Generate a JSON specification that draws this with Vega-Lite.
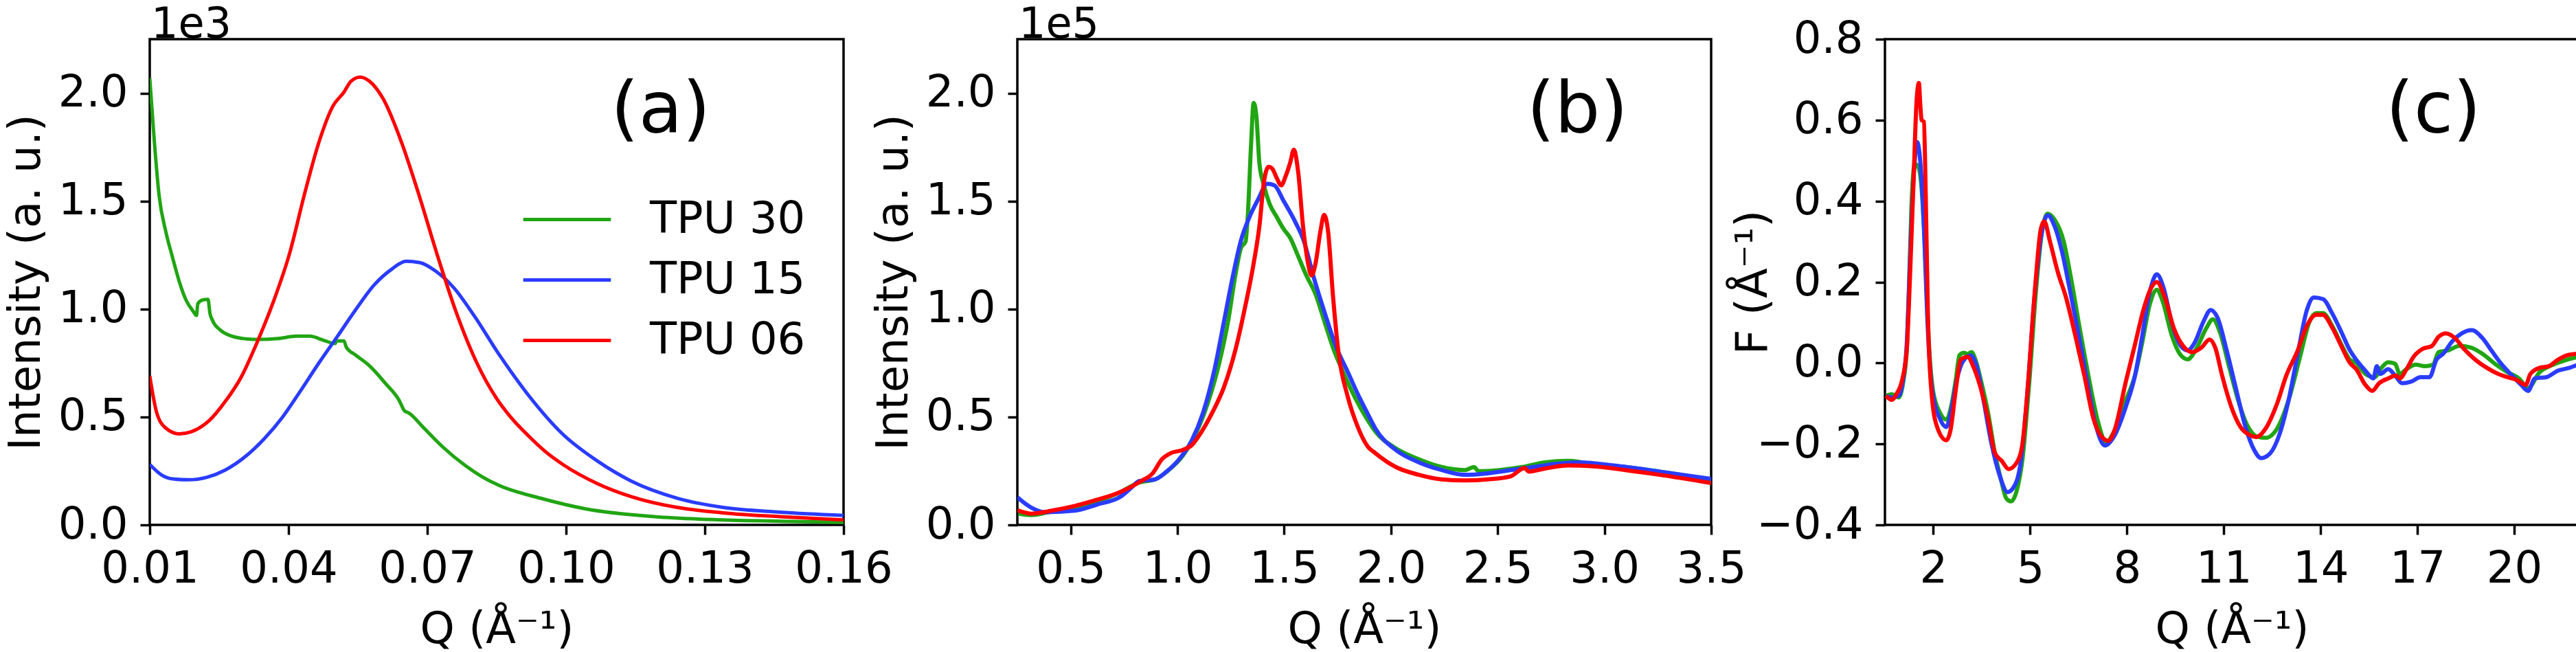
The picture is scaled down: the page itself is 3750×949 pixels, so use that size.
{
"$schema": "https://vega.github.io/schema/vega-lite/v6.json",
"background": "white",
"padding": {"left": 4, "top": 3, "right": 0, "bottom": 0},
"autosize": {"type": "pad"},
"datasets": {
"a": [
{"sample":"TPU 30","Q":0.0100,"I":2070},{"sample":"TPU 30","Q":0.0110,"I":1774},{"sample":"TPU 30","Q":0.0120,"I":1529},{"sample":"TPU 30","Q":0.0135,"I":1356},{"sample":"TPU 30","Q":0.0149,"I":1241},{"sample":"TPU 30","Q":0.0164,"I":1126},{"sample":"TPU 30","Q":0.0179,"I":1039},{"sample":"TPU 30","Q":0.0194,"I":989},{"sample":"TPU 30","Q":0.0201,"I":970},{"sample":"TPU 30","Q":0.0204,"I":1025},{"sample":"TPU 30","Q":0.0214,"I":1042},{"sample":"TPU 30","Q":0.0226,"I":1045},{"sample":"TPU 30","Q":0.0230,"I":982},{"sample":"TPU 30","Q":0.0236,"I":946},{"sample":"TPU 30","Q":0.0253,"I":902},{"sample":"TPU 30","Q":0.0278,"I":874},{"sample":"TPU 30","Q":0.0308,"I":862},{"sample":"TPU 30","Q":0.0337,"I":859},{"sample":"TPU 30","Q":0.0377,"I":863},{"sample":"TPU 30","Q":0.0417,"I":874},{"sample":"TPU 30","Q":0.0446,"I":874},{"sample":"TPU 30","Q":0.0476,"I":855},{"sample":"TPU 30","Q":0.0501,"I":840},{"sample":"TPU 30","Q":0.0503,"I":852},{"sample":"TPU 30","Q":0.0520,"I":852},{"sample":"TPU 30","Q":0.0525,"I":823},{"sample":"TPU 30","Q":0.0545,"I":787},{"sample":"TPU 30","Q":0.0575,"I":737},{"sample":"TPU 30","Q":0.0609,"I":657},{"sample":"TPU 30","Q":0.0639,"I":578},{"sample":"TPU 30","Q":0.0651,"I":528},{"sample":"TPU 30","Q":0.0659,"I":520},{"sample":"TPU 30","Q":0.0693,"I":448},{"sample":"TPU 30","Q":0.0733,"I":362},{"sample":"TPU 30","Q":0.0782,"I":275},{"sample":"TPU 30","Q":0.0817,"I":225},{"sample":"TPU 30","Q":0.0856,"I":182},{"sample":"TPU 30","Q":0.0944,"I":124},{"sample":"TPU 30","Q":0.1043,"I":74},{"sample":"TPU 30","Q":0.1191,"I":38},{"sample":"TPU 30","Q":0.1339,"I":23},{"sample":"TPU 30","Q":0.1488,"I":16},{"sample":"TPU 30","Q":0.1600,"I":12},
{"sample":"TPU 15","Q":0.0100,"I":280},{"sample":"TPU 15","Q":0.0125,"I":232},{"sample":"TPU 15","Q":0.0149,"I":213},{"sample":"TPU 15","Q":0.0184,"I":209},{"sample":"TPU 15","Q":0.0224,"I":221},{"sample":"TPU 15","Q":0.0263,"I":254},{"sample":"TPU 15","Q":0.0308,"I":319},{"sample":"TPU 15","Q":0.0347,"I":398},{"sample":"TPU 15","Q":0.0387,"I":499},{"sample":"TPU 15","Q":0.0426,"I":621},{"sample":"TPU 15","Q":0.0466,"I":751},{"sample":"TPU 15","Q":0.0506,"I":874},{"sample":"TPU 15","Q":0.0545,"I":996},{"sample":"TPU 15","Q":0.0585,"I":1111},{"sample":"TPU 15","Q":0.0624,"I":1186},{"sample":"TPU 15","Q":0.0654,"I":1221},{"sample":"TPU 15","Q":0.0684,"I":1215},{"sample":"TPU 15","Q":0.0718,"I":1176},{"sample":"TPU 15","Q":0.0758,"I":1097},{"sample":"TPU 15","Q":0.0802,"I":967},{"sample":"TPU 15","Q":0.0856,"I":787},{"sample":"TPU 15","Q":0.0919,"I":600},{"sample":"TPU 15","Q":0.0993,"I":420},{"sample":"TPU 15","Q":0.1067,"I":297},{"sample":"TPU 15","Q":0.1141,"I":203},{"sample":"TPU 15","Q":0.1240,"I":124},{"sample":"TPU 15","Q":0.1339,"I":81},{"sample":"TPU 15","Q":0.1463,"I":59},{"sample":"TPU 15","Q":0.1600,"I":44},
{"sample":"TPU 06","Q":0.0100,"I":690},{"sample":"TPU 06","Q":0.0115,"I":520},{"sample":"TPU 06","Q":0.0135,"I":448},{"sample":"TPU 06","Q":0.0164,"I":422},{"sample":"TPU 06","Q":0.0189,"I":431},{"sample":"TPU 06","Q":0.0229,"I":484},{"sample":"TPU 06","Q":0.0263,"I":571},{"sample":"TPU 06","Q":0.0298,"I":686},{"sample":"TPU 06","Q":0.0332,"I":845},{"sample":"TPU 06","Q":0.0367,"I":1032},{"sample":"TPU 06","Q":0.0402,"I":1255},{"sample":"TPU 06","Q":0.0436,"I":1544},{"sample":"TPU 06","Q":0.0466,"I":1774},{"sample":"TPU 06","Q":0.0496,"I":1940},{"sample":"TPU 06","Q":0.0520,"I":2005},{"sample":"TPU 06","Q":0.0535,"I":2055},{"sample":"TPU 06","Q":0.0555,"I":2074},{"sample":"TPU 06","Q":0.0575,"I":2055},{"sample":"TPU 06","Q":0.0604,"I":1976},{"sample":"TPU 06","Q":0.0644,"I":1774},{"sample":"TPU 06","Q":0.0684,"I":1515},{"sample":"TPU 06","Q":0.0723,"I":1241},{"sample":"TPU 06","Q":0.0763,"I":982},{"sample":"TPU 06","Q":0.0807,"I":751},{"sample":"TPU 06","Q":0.0850,"I":585},{"sample":"TPU 06","Q":0.0880,"I":500},{"sample":"TPU 06","Q":0.0919,"I":412},{"sample":"TPU 06","Q":0.0955,"I":340},{"sample":"TPU 06","Q":0.0993,"I":280},{"sample":"TPU 06","Q":0.1067,"I":192},{"sample":"TPU 06","Q":0.1141,"I":131},{"sample":"TPU 06","Q":0.1240,"I":81},{"sample":"TPU 06","Q":0.1339,"I":56},{"sample":"TPU 06","Q":0.1463,"I":38},{"sample":"TPU 06","Q":0.1600,"I":23}
],
"b": [
{"sample":"TPU 30","Q":0.255,"I":5200},{"sample":"TPU 30","Q":0.314,"I":4500},{"sample":"TPU 30","Q":0.411,"I":6200},{"sample":"TPU 30","Q":0.519,"I":8100},{"sample":"TPU 30","Q":0.626,"I":11000},{"sample":"TPU 30","Q":0.734,"I":15300},{"sample":"TPU 30","Q":0.820,"I":19600},{"sample":"TPU 30","Q":0.895,"I":21100},{"sample":"TPU 30","Q":0.959,"I":25400},{"sample":"TPU 30","Q":1.024,"I":31900},{"sample":"TPU 30","Q":1.088,"I":42700},{"sample":"TPU 30","Q":1.142,"I":56400},{"sample":"TPU 30","Q":1.196,"I":75100},{"sample":"TPU 30","Q":1.239,"I":95300},{"sample":"TPU 30","Q":1.271,"I":115500},{"sample":"TPU 30","Q":1.298,"I":128400},{"sample":"TPU 30","Q":1.319,"I":131300},{"sample":"TPU 30","Q":1.330,"I":144300},{"sample":"TPU 30","Q":1.344,"I":174600},{"sample":"TPU 30","Q":1.357,"I":195500},{"sample":"TPU 30","Q":1.370,"I":189000},{"sample":"TPU 30","Q":1.384,"I":167300},{"sample":"TPU 30","Q":1.405,"I":157300},{"sample":"TPU 30","Q":1.432,"I":148600},{"sample":"TPU 30","Q":1.464,"I":142800},{"sample":"TPU 30","Q":1.497,"I":137100},{"sample":"TPU 30","Q":1.529,"I":132800},{"sample":"TPU 30","Q":1.561,"I":125500},{"sample":"TPU 30","Q":1.604,"I":115500},{"sample":"TPU 30","Q":1.647,"I":106800},{"sample":"TPU 30","Q":1.690,"I":93800},{"sample":"TPU 30","Q":1.733,"I":80900},{"sample":"TPU 30","Q":1.776,"I":70800},{"sample":"TPU 30","Q":1.830,"I":59300},{"sample":"TPU 30","Q":1.892,"I":48400},{"sample":"TPU 30","Q":1.926,"I":43400},{"sample":"TPU 30","Q":2.023,"I":35500},{"sample":"TPU 30","Q":2.131,"I":30400},{"sample":"TPU 30","Q":2.238,"I":26800},{"sample":"TPU 30","Q":2.346,"I":25400},{"sample":"TPU 30","Q":2.389,"I":26800},{"sample":"TPU 30","Q":2.410,"I":24900},{"sample":"TPU 30","Q":2.507,"I":25400},{"sample":"TPU 30","Q":2.614,"I":26800},{"sample":"TPU 30","Q":2.722,"I":29000},{"sample":"TPU 30","Q":2.829,"I":29700},{"sample":"TPU 30","Q":2.937,"I":28300},{"sample":"TPU 30","Q":3.098,"I":26800},{"sample":"TPU 30","Q":3.259,"I":24700},{"sample":"TPU 30","Q":3.500,"I":21000},
{"sample":"TPU 15","Q":0.250,"I":12800},{"sample":"TPU 15","Q":0.314,"I":8100},{"sample":"TPU 15","Q":0.379,"I":5900},{"sample":"TPU 15","Q":0.519,"I":6600},{"sample":"TPU 15","Q":0.626,"I":9500},{"sample":"TPU 15","Q":0.734,"I":13100},{"sample":"TPU 15","Q":0.787,"I":17500},{"sample":"TPU 15","Q":0.820,"I":20300},{"sample":"TPU 15","Q":0.895,"I":21100},{"sample":"TPU 15","Q":0.949,"I":24700},{"sample":"TPU 15","Q":1.002,"I":29700},{"sample":"TPU 15","Q":1.067,"I":39100},{"sample":"TPU 15","Q":1.120,"I":52000},{"sample":"TPU 15","Q":1.174,"I":72200},{"sample":"TPU 15","Q":1.217,"I":93800},{"sample":"TPU 15","Q":1.260,"I":115500},{"sample":"TPU 15","Q":1.298,"I":132000},{"sample":"TPU 15","Q":1.335,"I":142100},{"sample":"TPU 15","Q":1.378,"I":150800},{"sample":"TPU 15","Q":1.421,"I":158000},{"sample":"TPU 15","Q":1.454,"I":157300},{"sample":"TPU 15","Q":1.497,"I":150100},{"sample":"TPU 15","Q":1.550,"I":140700},{"sample":"TPU 15","Q":1.593,"I":131300},{"sample":"TPU 15","Q":1.636,"I":115500},{"sample":"TPU 15","Q":1.690,"I":98200},{"sample":"TPU 15","Q":1.744,"I":82300},{"sample":"TPU 15","Q":1.798,"I":70800},{"sample":"TPU 15","Q":1.851,"I":59300},{"sample":"TPU 15","Q":1.892,"I":51300},{"sample":"TPU 15","Q":1.926,"I":44800},{"sample":"TPU 15","Q":2.023,"I":34700},{"sample":"TPU 15","Q":2.131,"I":29000},{"sample":"TPU 15","Q":2.238,"I":25400},{"sample":"TPU 15","Q":2.346,"I":23200},{"sample":"TPU 15","Q":2.453,"I":23900},{"sample":"TPU 15","Q":2.561,"I":25400},{"sample":"TPU 15","Q":2.668,"I":26800},{"sample":"TPU 15","Q":2.776,"I":28300},{"sample":"TPU 15","Q":2.883,"I":29000},{"sample":"TPU 15","Q":3.044,"I":27500},{"sample":"TPU 15","Q":3.259,"I":24700},{"sample":"TPU 15","Q":3.500,"I":21300},
{"sample":"TPU 06","Q":0.250,"I":6800},{"sample":"TPU 06","Q":0.314,"I":5200},{"sample":"TPU 06","Q":0.411,"I":6600},{"sample":"TPU 06","Q":0.519,"I":8800},{"sample":"TPU 06","Q":0.626,"I":11700},{"sample":"TPU 06","Q":0.734,"I":15300},{"sample":"TPU 06","Q":0.830,"I":20300},{"sample":"TPU 06","Q":0.884,"I":23900},{"sample":"TPU 06","Q":0.927,"I":30400},{"sample":"TPU 06","Q":0.970,"I":33300},{"sample":"TPU 06","Q":1.024,"I":34700},{"sample":"TPU 06","Q":1.067,"I":36900},{"sample":"TPU 06","Q":1.110,"I":42700},{"sample":"TPU 06","Q":1.163,"I":52000},{"sample":"TPU 06","Q":1.217,"I":63600},{"sample":"TPU 06","Q":1.271,"I":80900},{"sample":"TPU 06","Q":1.314,"I":99600},{"sample":"TPU 06","Q":1.357,"I":121200},{"sample":"TPU 06","Q":1.384,"I":138500},{"sample":"TPU 06","Q":1.405,"I":158700},{"sample":"TPU 06","Q":1.427,"I":165900},{"sample":"TPU 06","Q":1.443,"I":165200},{"sample":"TPU 06","Q":1.464,"I":160900},{"sample":"TPU 06","Q":1.486,"I":157300},{"sample":"TPU 06","Q":1.507,"I":161600},{"sample":"TPU 06","Q":1.529,"I":168100},{"sample":"TPU 06","Q":1.545,"I":173800},{"sample":"TPU 06","Q":1.566,"I":163000},{"sample":"TPU 06","Q":1.588,"I":138500},{"sample":"TPU 06","Q":1.609,"I":122700},{"sample":"TPU 06","Q":1.628,"I":115500},{"sample":"TPU 06","Q":1.647,"I":121200},{"sample":"TPU 06","Q":1.669,"I":135600},{"sample":"TPU 06","Q":1.687,"I":143600},{"sample":"TPU 06","Q":1.706,"I":135600},{"sample":"TPU 06","Q":1.728,"I":106800},{"sample":"TPU 06","Q":1.755,"I":79400},{"sample":"TPU 06","Q":1.798,"I":59300},{"sample":"TPU 06","Q":1.841,"I":46300},{"sample":"TPU 06","Q":1.892,"I":36200},{"sample":"TPU 06","Q":1.926,"I":33300},{"sample":"TPU 06","Q":2.023,"I":26800},{"sample":"TPU 06","Q":2.131,"I":23200},{"sample":"TPU 06","Q":2.238,"I":21100},{"sample":"TPU 06","Q":2.346,"I":20600},{"sample":"TPU 06","Q":2.453,"I":21100},{"sample":"TPU 06","Q":2.561,"I":22500},{"sample":"TPU 06","Q":2.604,"I":25400},{"sample":"TPU 06","Q":2.625,"I":26400},{"sample":"TPU 06","Q":2.646,"I":24700},{"sample":"TPU 06","Q":2.722,"I":26100},{"sample":"TPU 06","Q":2.829,"I":27500},{"sample":"TPU 06","Q":2.937,"I":27200},{"sample":"TPU 06","Q":3.098,"I":25400},{"sample":"TPU 06","Q":3.259,"I":23200},{"sample":"TPU 06","Q":3.500,"I":19400}
],
"c": [
{"sample":"TPU 30","Q":0.536,"F":-0.081},{"sample":"TPU 30","Q":0.713,"F":-0.077},{"sample":"TPU 30","Q":0.926,"F":-0.085},{"sample":"TPU 30","Q":1.068,"F":-0.046},{"sample":"TPU 30","Q":1.175,"F":0.031},{"sample":"TPU 30","Q":1.246,"F":0.185},{"sample":"TPU 30","Q":1.317,"F":0.377},{"sample":"TPU 30","Q":1.423,"F":0.492},{"sample":"TPU 30","Q":1.530,"F":0.485},{"sample":"TPU 30","Q":1.636,"F":0.431},{"sample":"TPU 30","Q":1.743,"F":0.277},{"sample":"TPU 30","Q":1.849,"F":0.069},{"sample":"TPU 30","Q":1.991,"F":-0.069},{"sample":"TPU 30","Q":2.205,"F":-0.123},{"sample":"TPU 30","Q":2.403,"F":-0.140},{"sample":"TPU 30","Q":2.560,"F":-0.104},{"sample":"TPU 30","Q":2.702,"F":-0.038},{"sample":"TPU 30","Q":2.808,"F":0.019},{"sample":"TPU 30","Q":2.950,"F":0.025},{"sample":"TPU 30","Q":3.057,"F":0.022},{"sample":"TPU 30","Q":3.185,"F":0.027},{"sample":"TPU 30","Q":3.305,"F":0.008},{"sample":"TPU 30","Q":3.483,"F":-0.046},{"sample":"TPU 30","Q":3.696,"F":-0.123},{"sample":"TPU 30","Q":3.909,"F":-0.223},{"sample":"TPU 30","Q":4.087,"F":-0.285},{"sample":"TPU 30","Q":4.264,"F":-0.335},{"sample":"TPU 30","Q":4.406,"F":-0.342},{"sample":"TPU 30","Q":4.584,"F":-0.315},{"sample":"TPU 30","Q":4.761,"F":-0.238},{"sample":"TPU 30","Q":4.974,"F":-0.046},{"sample":"TPU 30","Q":5.188,"F":0.185},{"sample":"TPU 30","Q":5.365,"F":0.323},{"sample":"TPU 30","Q":5.543,"F":0.369},{"sample":"TPU 30","Q":5.756,"F":0.354},{"sample":"TPU 30","Q":6.040,"F":0.300},{"sample":"TPU 30","Q":6.253,"F":0.215},{"sample":"TPU 30","Q":6.537,"F":0.085},{"sample":"TPU 30","Q":6.821,"F":-0.038},{"sample":"TPU 30","Q":7.105,"F":-0.146},{"sample":"TPU 30","Q":7.354,"F":-0.196},{"sample":"TPU 30","Q":7.602,"F":-0.169},{"sample":"TPU 30","Q":7.965,"F":-0.092},{"sample":"TPU 30","Q":8.249,"F":-0.031},{"sample":"TPU 30","Q":8.462,"F":0.046},{"sample":"TPU 30","Q":8.711,"F":0.146},{"sample":"TPU 30","Q":8.924,"F":0.181},{"sample":"TPU 30","Q":9.101,"F":0.154},{"sample":"TPU 30","Q":9.386,"F":0.069},{"sample":"TPU 30","Q":9.670,"F":0.019},{"sample":"TPU 30","Q":9.883,"F":0.009},{"sample":"TPU 30","Q":10.167,"F":0.038},{"sample":"TPU 30","Q":10.451,"F":0.085},{"sample":"TPU 30","Q":10.664,"F":0.108},{"sample":"TPU 30","Q":10.877,"F":0.077},{"sample":"TPU 30","Q":11.161,"F":-0.008},{"sample":"TPU 30","Q":11.445,"F":-0.092},{"sample":"TPU 30","Q":11.729,"F":-0.154},{"sample":"TPU 30","Q":12.013,"F":-0.181},{"sample":"TPU 30","Q":12.297,"F":-0.185},{"sample":"TPU 30","Q":12.653,"F":-0.162},{"sample":"TPU 30","Q":13.008,"F":-0.092},{"sample":"TPU 30","Q":13.363,"F":0.015},{"sample":"TPU 30","Q":13.647,"F":0.100},{"sample":"TPU 30","Q":13.860,"F":0.123},{"sample":"TPU 30","Q":14.073,"F":0.123},{"sample":"TPU 30","Q":14.357,"F":0.092},{"sample":"TPU 30","Q":14.641,"F":0.046},{"sample":"TPU 30","Q":14.911,"F":0.008},{"sample":"TPU 30","Q":15.103,"F":0.000},{"sample":"TPU 30","Q":15.387,"F":-0.027},{"sample":"TPU 30","Q":15.671,"F":-0.035},{"sample":"TPU 30","Q":15.884,"F":-0.012},{"sample":"TPU 30","Q":16.097,"F":0.002},{"sample":"TPU 30","Q":16.310,"F":-0.002},{"sample":"TPU 30","Q":16.452,"F":-0.027},{"sample":"TPU 30","Q":16.666,"F":-0.015},{"sample":"TPU 30","Q":16.950,"F":-0.004},{"sample":"TPU 30","Q":17.234,"F":-0.008},{"sample":"TPU 30","Q":17.482,"F":-0.004},{"sample":"TPU 30","Q":17.660,"F":0.027},{"sample":"TPU 30","Q":17.944,"F":0.031},{"sample":"TPU 30","Q":18.299,"F":0.042},{"sample":"TPU 30","Q":18.654,"F":0.038},{"sample":"TPU 30","Q":19.009,"F":0.023},{"sample":"TPU 30","Q":19.435,"F":-0.004},{"sample":"TPU 30","Q":19.791,"F":-0.023},{"sample":"TPU 30","Q":20.146,"F":-0.038},{"sample":"TPU 30","Q":20.430,"F":-0.062},{"sample":"TPU 30","Q":20.785,"F":-0.023},{"sample":"TPU 30","Q":21.211,"F":-0.004},{"sample":"TPU 30","Q":21.637,"F":0.008},{"sample":"TPU 30","Q":21.978,"F":0.015},
{"sample":"TPU 15","Q":0.536,"F":-0.081},{"sample":"TPU 15","Q":0.713,"F":-0.085},{"sample":"TPU 15","Q":0.926,"F":-0.081},{"sample":"TPU 15","Q":1.068,"F":-0.038},{"sample":"TPU 15","Q":1.175,"F":0.046},{"sample":"TPU 15","Q":1.281,"F":0.262},{"sample":"TPU 15","Q":1.388,"F":0.454},{"sample":"TPU 15","Q":1.494,"F":0.546},{"sample":"TPU 15","Q":1.601,"F":0.492},{"sample":"TPU 15","Q":1.707,"F":0.338},{"sample":"TPU 15","Q":1.814,"F":0.108},{"sample":"TPU 15","Q":1.956,"F":-0.062},{"sample":"TPU 15","Q":2.205,"F":-0.138},{"sample":"TPU 15","Q":2.403,"F":-0.158},{"sample":"TPU 15","Q":2.560,"F":-0.115},{"sample":"TPU 15","Q":2.737,"F":-0.038},{"sample":"TPU 15","Q":2.915,"F":0.004},{"sample":"TPU 15","Q":3.163,"F":0.019},{"sample":"TPU 15","Q":3.341,"F":-0.008},{"sample":"TPU 15","Q":3.554,"F":-0.092},{"sample":"TPU 15","Q":3.803,"F":-0.200},{"sample":"TPU 15","Q":4.051,"F":-0.277},{"sample":"TPU 15","Q":4.300,"F":-0.319},{"sample":"TPU 15","Q":4.477,"F":-0.308},{"sample":"TPU 15","Q":4.690,"F":-0.254},{"sample":"TPU 15","Q":4.903,"F":-0.085},{"sample":"TPU 15","Q":5.116,"F":0.146},{"sample":"TPU 15","Q":5.330,"F":0.308},{"sample":"TPU 15","Q":5.543,"F":0.365},{"sample":"TPU 15","Q":5.756,"F":0.338},{"sample":"TPU 15","Q":6.004,"F":0.269},{"sample":"TPU 15","Q":6.182,"F":0.200},{"sample":"TPU 15","Q":6.466,"F":0.085},{"sample":"TPU 15","Q":6.750,"F":-0.038},{"sample":"TPU 15","Q":7.034,"F":-0.154},{"sample":"TPU 15","Q":7.318,"F":-0.204},{"sample":"TPU 15","Q":7.602,"F":-0.181},{"sample":"TPU 15","Q":7.965,"F":-0.108},{"sample":"TPU 15","Q":8.249,"F":-0.031},{"sample":"TPU 15","Q":8.462,"F":0.062},{"sample":"TPU 15","Q":8.711,"F":0.177},{"sample":"TPU 15","Q":8.924,"F":0.219},{"sample":"TPU 15","Q":9.137,"F":0.185},{"sample":"TPU 15","Q":9.386,"F":0.100},{"sample":"TPU 15","Q":9.670,"F":0.042},{"sample":"TPU 15","Q":9.883,"F":0.031},{"sample":"TPU 15","Q":10.096,"F":0.050},{"sample":"TPU 15","Q":10.380,"F":0.104},{"sample":"TPU 15","Q":10.593,"F":0.131},{"sample":"TPU 15","Q":10.806,"F":0.112},{"sample":"TPU 15","Q":11.090,"F":0.031},{"sample":"TPU 15","Q":11.374,"F":-0.062},{"sample":"TPU 15","Q":11.658,"F":-0.154},{"sample":"TPU 15","Q":11.942,"F":-0.215},{"sample":"TPU 15","Q":12.155,"F":-0.235},{"sample":"TPU 15","Q":12.439,"F":-0.223},{"sample":"TPU 15","Q":12.723,"F":-0.177},{"sample":"TPU 15","Q":13.008,"F":-0.092},{"sample":"TPU 15","Q":13.292,"F":0.023},{"sample":"TPU 15","Q":13.576,"F":0.131},{"sample":"TPU 15","Q":13.789,"F":0.162},{"sample":"TPU 15","Q":14.073,"F":0.158},{"sample":"TPU 15","Q":14.357,"F":0.123},{"sample":"TPU 15","Q":14.641,"F":0.077},{"sample":"TPU 15","Q":14.911,"F":0.031},{"sample":"TPU 15","Q":15.103,"F":0.008},{"sample":"TPU 15","Q":15.387,"F":-0.019},{"sample":"TPU 15","Q":15.636,"F":-0.038},{"sample":"TPU 15","Q":15.742,"F":-0.008},{"sample":"TPU 15","Q":15.849,"F":-0.027},{"sample":"TPU 15","Q":16.097,"F":-0.015},{"sample":"TPU 15","Q":16.310,"F":-0.031},{"sample":"TPU 15","Q":16.524,"F":-0.050},{"sample":"TPU 15","Q":16.808,"F":-0.046},{"sample":"TPU 15","Q":17.092,"F":-0.035},{"sample":"TPU 15","Q":17.376,"F":-0.035},{"sample":"TPU 15","Q":17.589,"F":0.008},{"sample":"TPU 15","Q":17.802,"F":0.023},{"sample":"TPU 15","Q":18.086,"F":0.054},{"sample":"TPU 15","Q":18.370,"F":0.073},{"sample":"TPU 15","Q":18.690,"F":0.081},{"sample":"TPU 15","Q":19.009,"F":0.062},{"sample":"TPU 15","Q":19.293,"F":0.031},{"sample":"TPU 15","Q":19.578,"F":0.000},{"sample":"TPU 15","Q":19.933,"F":-0.031},{"sample":"TPU 15","Q":20.217,"F":-0.054},{"sample":"TPU 15","Q":20.430,"F":-0.069},{"sample":"TPU 15","Q":20.643,"F":-0.038},{"sample":"TPU 15","Q":20.998,"F":-0.035},{"sample":"TPU 15","Q":21.353,"F":-0.019},{"sample":"TPU 15","Q":21.708,"F":-0.012},{"sample":"TPU 15","Q":21.978,"F":-0.004},
{"sample":"TPU 06","Q":0.536,"F":-0.081},{"sample":"TPU 06","Q":0.713,"F":-0.091},{"sample":"TPU 06","Q":0.855,"F":-0.077},{"sample":"TPU 06","Q":1.033,"F":-0.042},{"sample":"TPU 06","Q":1.175,"F":0.031},{"sample":"TPU 06","Q":1.281,"F":0.223},{"sample":"TPU 06","Q":1.388,"F":0.454},{"sample":"TPU 06","Q":1.480,"F":0.646},{"sample":"TPU 06","Q":1.551,"F":0.692},{"sample":"TPU 06","Q":1.601,"F":0.631},{"sample":"TPU 06","Q":1.636,"F":0.600},{"sample":"TPU 06","Q":1.707,"F":0.596},{"sample":"TPU 06","Q":1.764,"F":0.415},{"sample":"TPU 06","Q":1.835,"F":0.108},{"sample":"TPU 06","Q":1.956,"F":-0.085},{"sample":"TPU 06","Q":2.134,"F":-0.162},{"sample":"TPU 06","Q":2.403,"F":-0.191},{"sample":"TPU 06","Q":2.524,"F":-0.169},{"sample":"TPU 06","Q":2.702,"F":-0.062},{"sample":"TPU 06","Q":2.844,"F":0.008},{"sample":"TPU 06","Q":3.057,"F":0.015},{"sample":"TPU 06","Q":3.270,"F":-0.015},{"sample":"TPU 06","Q":3.518,"F":-0.077},{"sample":"TPU 06","Q":3.696,"F":-0.138},{"sample":"TPU 06","Q":3.909,"F":-0.223},{"sample":"TPU 06","Q":4.122,"F":-0.242},{"sample":"TPU 06","Q":4.335,"F":-0.262},{"sample":"TPU 06","Q":4.584,"F":-0.246},{"sample":"TPU 06","Q":4.761,"F":-0.200},{"sample":"TPU 06","Q":4.939,"F":-0.046},{"sample":"TPU 06","Q":5.152,"F":0.185},{"sample":"TPU 06","Q":5.330,"F":0.331},{"sample":"TPU 06","Q":5.436,"F":0.350},{"sample":"TPU 06","Q":5.614,"F":0.300},{"sample":"TPU 06","Q":5.862,"F":0.223},{"sample":"TPU 06","Q":6.111,"F":0.162},{"sample":"TPU 06","Q":6.395,"F":0.069},{"sample":"TPU 06","Q":6.679,"F":-0.031},{"sample":"TPU 06","Q":6.963,"F":-0.138},{"sample":"TPU 06","Q":7.247,"F":-0.185},{"sample":"TPU 06","Q":7.425,"F":-0.192},{"sample":"TPU 06","Q":7.602,"F":-0.169},{"sample":"TPU 06","Q":7.965,"F":-0.046},{"sample":"TPU 06","Q":8.249,"F":0.046},{"sample":"TPU 06","Q":8.533,"F":0.138},{"sample":"TPU 06","Q":8.746,"F":0.185},{"sample":"TPU 06","Q":8.924,"F":0.200},{"sample":"TPU 06","Q":9.172,"F":0.162},{"sample":"TPU 06","Q":9.457,"F":0.085},{"sample":"TPU 06","Q":9.741,"F":0.042},{"sample":"TPU 06","Q":10.025,"F":0.027},{"sample":"TPU 06","Q":10.309,"F":0.038},{"sample":"TPU 06","Q":10.557,"F":0.058},{"sample":"TPU 06","Q":10.735,"F":0.038},{"sample":"TPU 06","Q":10.948,"F":-0.031},{"sample":"TPU 06","Q":11.232,"F":-0.108},{"sample":"TPU 06","Q":11.516,"F":-0.158},{"sample":"TPU 06","Q":11.800,"F":-0.178},{"sample":"TPU 06","Q":12.013,"F":-0.183},{"sample":"TPU 06","Q":12.297,"F":-0.162},{"sample":"TPU 06","Q":12.653,"F":-0.100},{"sample":"TPU 06","Q":12.937,"F":-0.031},{"sample":"TPU 06","Q":13.292,"F":0.031},{"sample":"TPU 06","Q":13.576,"F":0.092},{"sample":"TPU 06","Q":13.860,"F":0.119},{"sample":"TPU 06","Q":14.073,"F":0.119},{"sample":"TPU 06","Q":14.357,"F":0.088},{"sample":"TPU 06","Q":14.641,"F":0.042},{"sample":"TPU 06","Q":14.911,"F":0.000},{"sample":"TPU 06","Q":15.103,"F":-0.015},{"sample":"TPU 06","Q":15.387,"F":-0.054},{"sample":"TPU 06","Q":15.600,"F":-0.069},{"sample":"TPU 06","Q":15.813,"F":-0.050},{"sample":"TPU 06","Q":16.097,"F":-0.038},{"sample":"TPU 06","Q":16.346,"F":-0.031},{"sample":"TPU 06","Q":16.452,"F":-0.038},{"sample":"TPU 06","Q":16.666,"F":-0.015},{"sample":"TPU 06","Q":16.879,"F":0.015},{"sample":"TPU 06","Q":17.163,"F":0.035},{"sample":"TPU 06","Q":17.447,"F":0.042},{"sample":"TPU 06","Q":17.660,"F":0.065},{"sample":"TPU 06","Q":17.873,"F":0.073},{"sample":"TPU 06","Q":18.157,"F":0.062},{"sample":"TPU 06","Q":18.441,"F":0.035},{"sample":"TPU 06","Q":18.796,"F":0.008},{"sample":"TPU 06","Q":19.151,"F":-0.012},{"sample":"TPU 06","Q":19.506,"F":-0.027},{"sample":"TPU 06","Q":19.791,"F":-0.035},{"sample":"TPU 06","Q":20.075,"F":-0.042},{"sample":"TPU 06","Q":20.359,"F":-0.054},{"sample":"TPU 06","Q":20.501,"F":-0.027},{"sample":"TPU 06","Q":20.785,"F":-0.012},{"sample":"TPU 06","Q":21.069,"F":-0.008},{"sample":"TPU 06","Q":21.353,"F":0.008},{"sample":"TPU 06","Q":21.637,"F":0.019},{"sample":"TPU 06","Q":21.978,"F":0.023}
]
},
"hconcat": [
{
"width": 1010, "height": 707,
"layer": [
{"data": {"name": "a"},
 "mark": {"type": "line", "strokeWidth": 5, "strokeJoin": "round", "interpolate": "monotone", "clip": true},
 "encoding": {
  "x": {"field": "Q", "type": "quantitative", "scale": {"domain": [0.01, 0.16], "nice": false, "zero": false}, "axis": {"title": "Q (Å⁻¹)", "values": [0.01, 0.04, 0.07, 0.10, 0.13, 0.16], "format": ".2f"}},
  "y": {"field": "I", "type": "quantitative", "scale": {"domain": [0, 2250], "nice": false}, "axis": {"title": "Intensity (a. u.)", "values": [0, 500, 1000, 1500, 2000], "labelExpr": "format(datum.value/1000, '.1f')"}},
  "color": {"field": "sample", "type": "nominal", "sort": ["TPU 30", "TPU 15", "TPU 06"],
   "scale": {"domain": ["TPU 30", "TPU 15", "TPU 06"], "range": ["#20a513", "#2a3cff", "#ff0000"]},
   "legend": {"orient": "none", "legendX": 561, "legendY": 216, "title": null, "symbolType": "M-1.45,0H1.45", "symbolSize": 7744, "symbolStrokeWidth": 5, "labelFontSize": 64, "labelLimit": 500, "labelOffset": 74, "rowPadding": 9, "padding": 0, "labelColor": "black", "labelFont": "DejaVu Sans"}}
 }},
{"data": {"values": [{"t": "1e3"}]},
 "mark": {"type": "text", "align": "left", "baseline": "alphabetic", "dx": 2, "dy": -2, "fontSize": 62, "color": "black"},
 "encoding": {"x": {"datum": 0.01, "type": "quantitative"}, "y": {"datum": 2250, "type": "quantitative"}, "text": {"field": "t"}}},
{"data": {"values": [{"t": "(a)"}]},
 "mark": {"type": "text", "align": "right", "baseline": "alphabetic", "fontSize": 104, "color": "black"},
 "encoding": {"x": {"datum": 0.1312, "type": "quantitative"}, "y": {"datum": 1817, "type": "quantitative"}, "text": {"field": "t"}}}
]
},
{
"width": 1010, "height": 707,
"layer": [
{"data": {"name": "b"},
 "mark": {"type": "line", "strokeWidth": 6, "strokeJoin": "round", "interpolate": "monotone", "clip": true},
 "encoding": {
  "x": {"field": "Q", "type": "quantitative", "scale": {"domain": [0.25, 3.5], "nice": false, "zero": false}, "axis": {"title": "Q (Å⁻¹)", "values": [0.5, 1.0, 1.5, 2.0, 2.5, 3.0, 3.5], "format": ".1f"}},
  "y": {"field": "I", "type": "quantitative", "scale": {"domain": [0, 225000], "nice": false}, "axis": {"title": "Intensity (a. u.)", "values": [0, 50000, 100000, 150000, 200000], "labelExpr": "format(datum.value/100000, '.1f')"}},
  "color": {"field": "sample", "type": "nominal", "sort": ["TPU 30", "TPU 15", "TPU 06"], "legend": null}
 }},
{"data": {"values": [{"t": "1e5"}]},
 "mark": {"type": "text", "align": "left", "baseline": "alphabetic", "dx": 2, "dy": -2, "fontSize": 62, "color": "black"},
 "encoding": {"x": {"datum": 0.25, "type": "quantitative"}, "y": {"datum": 225000, "type": "quantitative"}, "text": {"field": "t"}}},
{"data": {"values": [{"t": "(b)"}]},
 "mark": {"type": "text", "align": "right", "baseline": "alphabetic", "fontSize": 104, "color": "black"},
 "encoding": {"x": {"datum": 3.11, "type": "quantitative"}, "y": {"datum": 181700, "type": "quantitative"}, "text": {"field": "t"}}}
]
},
{
"width": 1010, "height": 707,
"layer": [
{"data": {"name": "c"},
 "mark": {"type": "line", "strokeWidth": 6, "strokeJoin": "round", "interpolate": "monotone", "clip": true},
 "encoding": {
  "x": {"field": "Q", "type": "quantitative", "scale": {"domain": [0.5, 22], "nice": false, "zero": false}, "axis": {"title": "Q (Å⁻¹)", "values": [2, 5, 8, 11, 14, 17, 20], "format": "d"}},
  "y": {"field": "F", "type": "quantitative", "scale": {"domain": [-0.4, 0.8], "nice": false, "zero": false}, "axis": {"title": "F (Å⁻¹)", "titlePadding": -28, "values": [-0.4, -0.2, 0, 0.2, 0.4, 0.6, 0.8], "format": ".1f"}},
  "color": {"field": "sample", "type": "nominal", "sort": ["TPU 30", "TPU 15", "TPU 06"], "legend": null}
 }},
{"data": {"values": [{"t": "(c)"}]},
 "mark": {"type": "text", "align": "right", "baseline": "alphabetic", "fontSize": 104, "color": "black"},
 "encoding": {"x": {"datum": 18.97, "type": "quantitative"}, "y": {"datum": 0.57, "type": "quantitative"}, "text": {"field": "t"}}}
]
}
],
"spacing": 253,
"bounds": "flush",
"resolve": {"legend": {"color": "independent"}},
"config": {
 "font": "DejaVu Sans",
 "view": {"stroke": "black", "strokeWidth": 3.5},
 "axis": {"domain": false, "grid": false, "ticks": true, "tickColor": "black", "tickWidth": 3.5, "tickSize": 14, "labelFontSize": 64, "labelColor": "black", "labelFont": "DejaVu Sans", "titleFont": "DejaVu Sans", "titleFontSize": 64, "titleFontWeight": "normal", "titleColor": "black", "labelPadding": 18, "titlePadding": 24, "labelFlush": false, "labelOverlap": false},
 "axisY": {"titlePadding": 14},
 "legend": {"labelFont": "DejaVu Sans"}
}
}
